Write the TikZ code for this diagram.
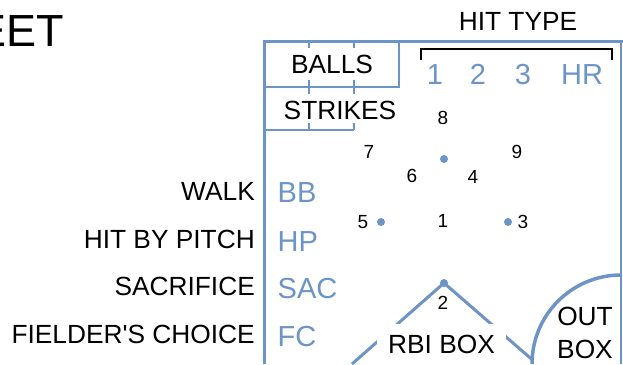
\documentclass[tikz,border=0pt]{standalone}
\usepackage{fontspec}
\setmainfont{Liberation Sans}[Ligatures=TeXOff]
\definecolor{sheetblue}{RGB}{108,148,199}
\begin{document}
\begin{tikzpicture}[x=1pt,y=-1pt,
  bl/.style={draw=sheetblue,line width=2pt},
  mainl/.style={draw=sheetblue,line width=3pt},
  lbl/.style={inner sep=0pt,font=\fontsize{26.3}{30}\selectfont},
  blu/.style={inner sep=0pt,text=sheetblue,font=\fontsize{29}{33}\selectfont},
  dig/.style={inner sep=0pt,font=\fontsize{19}{22}\selectfont},
  dotb/.style={fill=sheetblue}]
\useasboundingbox (0,0) rectangle (623,364);
% outer frame
\draw[mainl] (264,364) -- (264,41) -- (623,41);
\draw[draw=sheetblue,line width=1.2pt] (621,41) -- (621,364);
% balls / strikes boxes
\draw[bl] (264,87) -- (399,87) -- (399,41);
\draw[bl] (264,130) -- (354,130);
\draw[bl] (309,41) -- (309,48) (354,41) -- (354,48);
\draw[bl] (309,80) -- (309,94) (354,80) -- (354,94);
\draw[bl] (309,130) -- (309,123) (354,130) -- (354,123);
% hit type bracket
\draw[black,line width=2pt] (421,60) -- (421,49) -- (612,49) -- (612,60);
% texts
\node[lbl,anchor=east,font=\fontsize{45}{52}\selectfont] (title) at (64.5,31.5) {EET};
\node[lbl] (hittype) at (518,21) {HIT TYPE};
\node[lbl] (balls) at (332,64) {BALLS};
\node[lbl] (strikes) at (340,110) {STRIKES};
\node[blu] (h1) at (435,74.5) {1};
\node[blu] (h2) at (478,74.5) {2};
\node[blu] (h3) at (523,74.5) {3};
\node[blu] (hr) at (582,74.5) {HR};
\node[lbl,anchor=east] (walk) at (255,191) {WALK};
\node[lbl,anchor=east] (hbp) at (255,239) {HIT BY PITCH};
\node[lbl,anchor=east] (sac) at (255,286.5) {SACRIFICE};
\node[lbl,anchor=east] (fc) at (255,334) {FIELDER'S CHOICE};
\node[blu,anchor=west] (bb) at (277.5,193) {BB};
\node[blu,anchor=west] (hp) at (277.5,242) {HP};
\node[blu,anchor=west] (sacb) at (277.5,289) {SAC};
\node[blu,anchor=west] (fcb) at (277.5,337) {FC};
% field
\fill[dotb] (444,159) circle[radius=4pt];
\fill[dotb] (381,222) circle[radius=4pt];
\fill[dotb] (508,222) circle[radius=4pt];
\coordinate (home) at (444,283);
\coordinate (lend) at (352,364);
\coordinate (rend) at (532,359.5);
\draw[draw=sheetblue,line width=3pt] (lend) -- (home) -- (rend);
\fill[dotb] (home) circle[radius=4pt];
\draw[draw=sheetblue,line width=3.5pt] (532,364) arc[start angle=180,end angle=90,radius=89pt];
\node[dig] (p8) at (443,118) {8};
\node[dig] (p7) at (369,152) {7};
\node[dig] (p9) at (517,152) {9};
\node[dig] (p6) at (412,176) {6};
\node[dig] (p4) at (473,177) {4};
\node[dig] (p5) at (363,222) {5};
\node[dig] (p1) at (443,221) {1};
\node[dig] (p3) at (523,222) {3};
\node[dig] (p2) at (443,303) {2};
\node[lbl,fill=white,inner xsep=11pt,inner ysep=11pt] (rbi) at (441.5,344) {RBI BOX};
\node[lbl,align=center,font=\fontsize{26.3}{33}\selectfont] (out) at (585,332.5) {OUT\\BOX};
\end{tikzpicture}
\end{document}
